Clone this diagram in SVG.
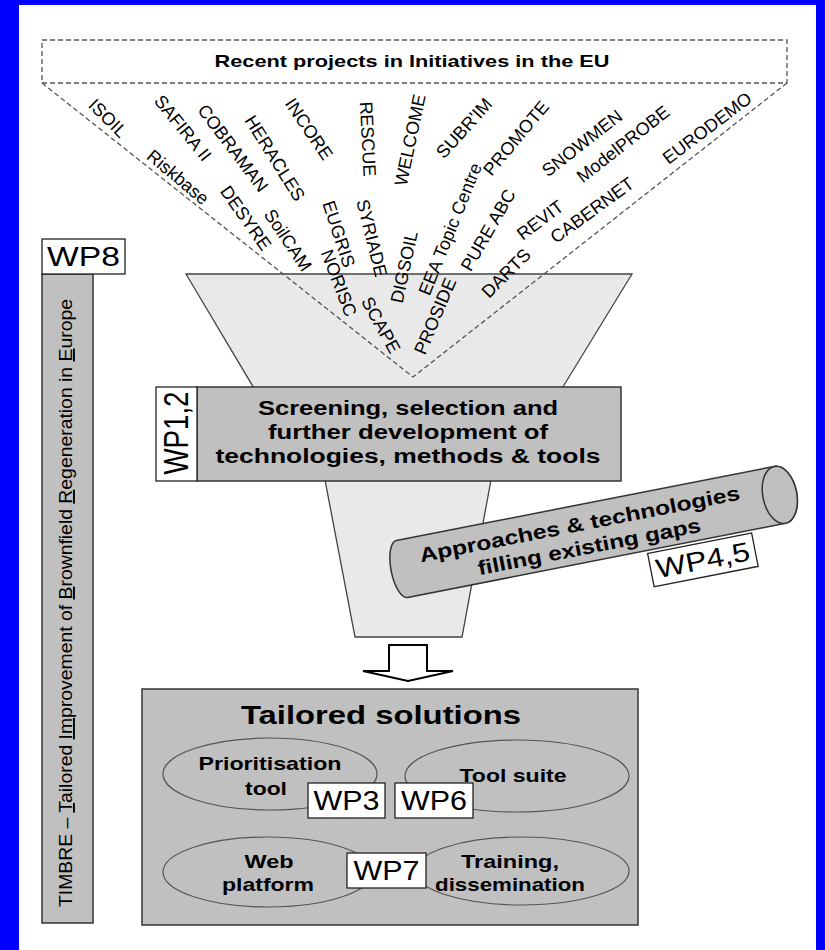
<svg xmlns="http://www.w3.org/2000/svg" width="825" height="950" viewBox="0 0 825 950">
<style>
text{font-family:"Liberation Sans",Arial,sans-serif;fill:#000}
.nm{font-size:18px}
.b{font-weight:bold}
.wp{font-size:27px}
.grey{fill:#c0c0c0;stroke:#333;stroke-width:1.5}
.white{fill:#fff;stroke:#222;stroke-width:1.3}
.ell{fill:none;stroke:#555;stroke-width:1.2}
.dash{fill:none;stroke:#555;stroke-width:1.3;stroke-dasharray:5 3}
</style>
<rect x="0" y="0" width="825" height="950" fill="#0000ff"/>
<rect x="19" y="5" width="797" height="945" fill="#fff"/>

<g id="funnel">
<polygon points="186,274 632,274 558,395 491,480 462,637 355,637 325,480 258,395" fill="#e9e9e9" stroke="#444" stroke-width="1.3"/>
</g>

<g id="screening">
<rect class="grey" x="197" y="387" width="424" height="94"/>
<text class="b" font-size="20" text-anchor="middle" x="408" y="415" textLength="300" lengthAdjust="spacingAndGlyphs">Screening, selection and</text>
<text class="b" font-size="20" text-anchor="middle" x="408" y="439" textLength="280" lengthAdjust="spacingAndGlyphs">further development of</text>
<text class="b" font-size="20" text-anchor="middle" x="408" y="463" textLength="385" lengthAdjust="spacingAndGlyphs">technologies, methods &amp; tools</text>
</g>
<g id="wp12">
<rect class="white" x="156" y="387" width="41" height="94"/>
<text class="wp" text-anchor="middle" transform="translate(188,433) scale(1.3,1) rotate(-90)" textLength="83" lengthAdjust="spacingAndGlyphs">WP1,2</text>
</g>

<g id="connectors">
<path class="dash" d="M42,83 L413,377 L787,83"/>
<path d="M389,645 L427,645 L427,671 L453,671 L408,681 L363,671 L389,671 Z" fill="#fff" stroke="#000" stroke-width="2" stroke-linejoin="miter"/>
</g>

<g id="recent">
<rect class="dash" x="42" y="40" width="745" height="43"/>
<text class="b" font-size="17" text-anchor="middle" x="412" y="67" textLength="395" lengthAdjust="spacingAndGlyphs">Recent projects in Initiatives in the EU</text>
</g>

<g id="projects" class="nm" text-anchor="middle">
<text class="nm" dy="0.35em" transform="translate(108,118) rotate(45)">ISOIL</text>
<text class="nm" dy="0.35em" transform="translate(183,128) rotate(51)">SAFIRA II</text>
<text class="nm" dy="0.35em" transform="translate(178,177) rotate(40)">Riskbase</text>
<text class="nm" dy="0.35em" transform="translate(233,148) rotate(53)">COBRAMAN</text>
<text class="nm" dy="0.35em" transform="translate(275,158) rotate(58)">HERACLES</text>
<text class="nm" dy="0.35em" transform="translate(309,129) rotate(56)">INCORE</text>
<text class="nm" dy="0.35em" transform="translate(368,139) rotate(87)">RESCUE</text>
<text class="nm" dy="0.35em" transform="translate(410,140) rotate(-78)">WELCOME</text>
<text class="nm" dy="0.35em" transform="translate(464,128) rotate(-48)">SUBR'IM</text>
<text class="nm" dy="0.35em" transform="translate(516,138) rotate(-50)">PROMOTE</text>
<text class="nm" dy="0.35em" transform="translate(450,229) rotate(-68)">EEA Topic Centre</text>
<text class="nm" dy="0.35em" transform="translate(488,230) rotate(-60)">PURE ABC</text>
<text class="nm" dy="0.35em" transform="translate(582,143) rotate(-38)">SNOWMEN</text>
<text class="nm" dy="0.35em" transform="translate(623,144) rotate(-38)">ModelPROBE</text>
<text class="nm" dy="0.35em" transform="translate(707,128) rotate(-37)">EURODEMO</text>
<text class="nm" dy="0.35em" transform="translate(592,210) rotate(-36)">CABERNET</text>
<text class="nm" dy="0.35em" transform="translate(540,220) rotate(-37)">REVIT</text>
<text class="nm" dy="0.35em" transform="translate(506,273) rotate(-45)">DARTS</text>
<text class="nm" dy="0.35em" transform="translate(435,316) rotate(-67)">PROSIDE</text>
<text class="nm" dy="0.35em" transform="translate(404,267) rotate(-78)">DIGSOIL</text>
<text class="nm" dy="0.35em" transform="translate(381,325) rotate(61)">SCAPE</text>
<text class="nm" dy="0.35em" transform="translate(372,238) rotate(76)">SYRIADE</text>
<text class="nm" dy="0.35em" transform="translate(339,234) rotate(72)">EUGRIS</text>
<text class="nm" dy="0.35em" transform="translate(339,283) rotate(69)">NORISC</text>
<text class="nm" dy="0.35em" transform="translate(288,240) rotate(56)">SoilCAM</text>
<text class="nm" dy="0.35em" transform="translate(246,218) rotate(55)">DESYRE</text>
</g>

<g id="cylinder" transform="translate(402,569) rotate(-11.1)">
<path class="grey" d="M0,-29 L385,-29 A17,29 0 0 1 385,29 L0,29 A11,29 0 0 1 0,-29 Z"/>
<ellipse class="grey" cx="385" cy="0" rx="17" ry="29"/>
<text class="b" font-size="20" text-anchor="middle" x="183" y="-3" textLength="326" lengthAdjust="spacingAndGlyphs">Approaches &amp; technologies</text>
<text class="b" font-size="20" text-anchor="middle" x="188" y="21" textLength="227" lengthAdjust="spacingAndGlyphs">filling existing gaps</text>
</g>
<g id="wp45" transform="translate(402,569) rotate(-11.1)">
<rect class="white" x="244" y="32" width="106" height="34"/>
<text class="wp" text-anchor="middle" x="297" y="58.5" textLength="95" lengthAdjust="spacingAndGlyphs">WP4,5</text>
</g>

<g id="timbre">
<rect class="grey" x="42" y="274" width="51" height="649"/>
<text font-size="19" text-anchor="middle" transform="translate(72,603) rotate(-90)" textLength="608" lengthAdjust="spacingAndGlyphs">TIMBRE – <tspan text-decoration="underline">T</tspan>ailored <tspan text-decoration="underline">Im</tspan>provement of <tspan text-decoration="underline">B</tspan>rownfield <tspan text-decoration="underline">R</tspan>egeneration in <tspan text-decoration="underline">E</tspan>urope</text>
</g>
<g id="wp8">
<rect class="white" x="42" y="239" width="83" height="35"/>
<text class="wp" text-anchor="middle" x="83.5" y="266" textLength="73" lengthAdjust="spacingAndGlyphs">WP8</text>
</g>

<g id="tailored">
<rect class="grey" x="142" y="689" width="496" height="236"/>
<text class="b" font-size="26" text-anchor="middle" x="381" y="724" textLength="280" lengthAdjust="spacingAndGlyphs">Tailored solutions</text>
</g>
<g id="prioritisation">
<ellipse class="ell" cx="270" cy="774" rx="107" ry="36"/>
<text class="b" font-size="19" text-anchor="middle" x="270" y="770" textLength="143" lengthAdjust="spacingAndGlyphs">Prioritisation</text>
<text class="b" font-size="19" text-anchor="middle" x="266" y="795" textLength="42" lengthAdjust="spacingAndGlyphs">tool</text>
</g>
<g id="toolsuite">
<ellipse class="ell" cx="517" cy="776" rx="112" ry="36"/>
<text class="b" font-size="19" text-anchor="middle" x="513" y="782" textLength="107" lengthAdjust="spacingAndGlyphs">Tool suite</text>
</g>
<g id="web">
<ellipse class="ell" cx="268" cy="872" rx="105" ry="35"/>
<text class="b" font-size="19" text-anchor="middle" x="269" y="868" textLength="49" lengthAdjust="spacingAndGlyphs">Web</text>
<text class="b" font-size="19" text-anchor="middle" x="268" y="891" textLength="92" lengthAdjust="spacingAndGlyphs">platform</text>
</g>
<g id="training">
<ellipse class="ell" cx="522" cy="871" rx="107" ry="34"/>
<text class="b" font-size="19" text-anchor="middle" x="510" y="868" textLength="98" lengthAdjust="spacingAndGlyphs">Training,</text>
<text class="b" font-size="19" text-anchor="middle" x="510" y="891" textLength="150" lengthAdjust="spacingAndGlyphs">dissemination</text>
</g>
<g id="wp3">
<rect class="white" x="308" y="783" width="77" height="35"/>
<text class="wp" text-anchor="middle" x="346.5" y="810" textLength="66" lengthAdjust="spacingAndGlyphs">WP3</text>
</g>
<g id="wp6">
<rect class="white" x="395" y="783" width="78" height="35"/>
<text class="wp" text-anchor="middle" x="434" y="810" textLength="66" lengthAdjust="spacingAndGlyphs">WP6</text>
</g>
<g id="wp7">
<rect class="white" x="347" y="853" width="79" height="35"/>
<text class="wp" text-anchor="middle" x="386.5" y="880" textLength="66" lengthAdjust="spacingAndGlyphs">WP7</text>
</g>
</svg>
